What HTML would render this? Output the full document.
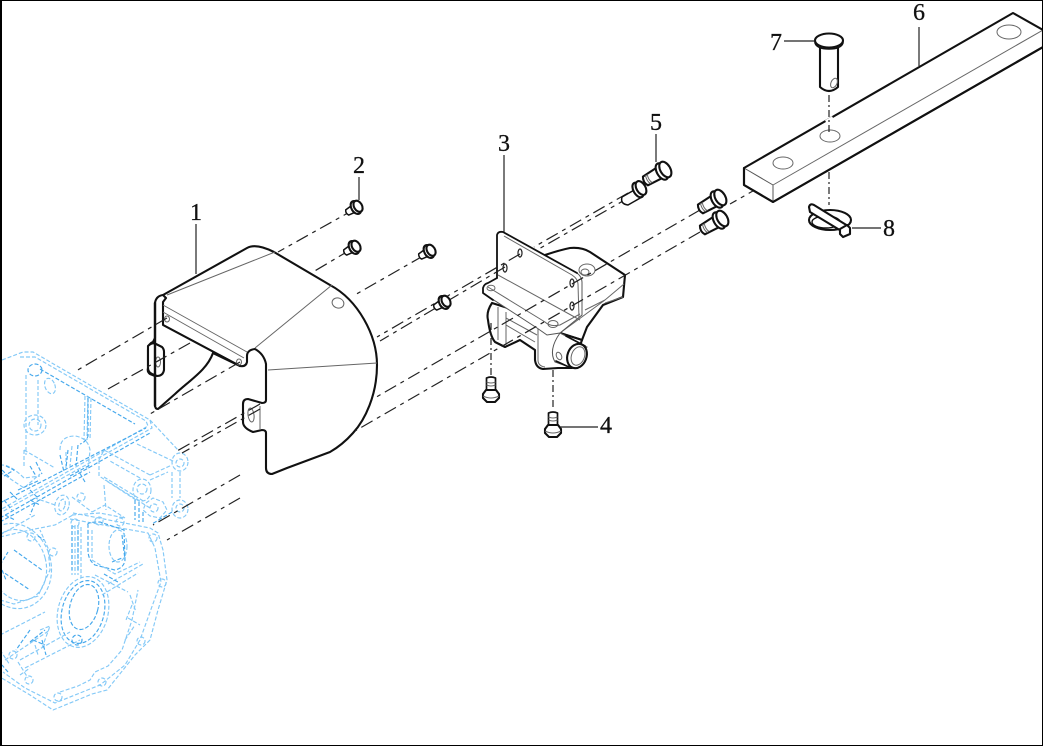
<!DOCTYPE html>
<html lang="en">
<head>
<meta charset="utf-8">
<title>Exploded parts diagram</title>
<style>
html,body{margin:0;padding:0;background:#fff;width:1043px;height:746px;overflow:hidden}
svg{display:block}
.o{fill:#fff;stroke:#111;stroke-width:2.1;stroke-linejoin:round;stroke-linecap:round}
.n{fill:none;stroke:#111;stroke-width:2.1;stroke-linejoin:round;stroke-linecap:round}
.t{fill:none;stroke:#666;stroke-width:1}
.l{fill:none;stroke:#222;stroke-width:1.2}
.d{fill:none;stroke:#222;stroke-width:1.2;stroke-dasharray:13 5 4 5}
.v{fill:none;stroke:#222;stroke-width:1.2;stroke-dasharray:7 3 2 3}
.e{fill:none;stroke:#84c9f7;stroke-width:1.15;stroke-dasharray:4 2}
.f{fill:none;stroke:#45a8ec;stroke-width:1.15;stroke-dasharray:4 2}
text{font-family:"Liberation Serif",serif;font-size:24px;fill:#111;stroke:#111;stroke-width:.3;text-anchor:middle}
</style>
</head>
<body>
<svg width="1043" height="746" viewBox="0 0 1043 746" xmlns="http://www.w3.org/2000/svg">
<defs>
<g id="sb">
  <path class="o" d="M-9,-3 L0,-4 L0,4 L-9,3 Q-11,0 -9,-3Z" style="stroke-width:1.5"/>
  <ellipse class="o" cx="1" cy="0" rx="4.5" ry="7"/>
  <ellipse class="o" cx="3.5" cy="0" rx="4" ry="6"/>
</g>
<g id="lb">
  <path class="o" d="M-18,-5 L0,-6 L0,6 L-18,5 Q-21,0 -18,-5Z"/>
  <path class="t" d="M-15,-5 Q-17,0 -15,5 M-13,-5 Q-15,0 -13,5"/>
  <ellipse class="o" cx="1" cy="0" rx="5" ry="9"/>
  <ellipse class="o" cx="5" cy="0" rx="5" ry="8.5"/>
</g>
<g id="vb">
  <path class="o" d="M-4.5,-15 Q0,-17 4.5,-15 L4.5,0 L-4.5,0Z" style="stroke-width:1.7"/>
  <path class="t" d="M-4.5,-11 Q0,-9 4.5,-11 M-4.5,-8 Q0,-6 4.5,-8"/>
  <path class="o" d="M-8,1 L-5,-3 L5,-3 L8,1 L8,5 L4,9 L-4,9 L-8,5Z"/>
  <path class="t" d="M-8,3 Q0,7 8,3"/>
</g>
</defs>
<rect width="1043" height="746" fill="#fff"/>

<!-- engine ghost -->
<g>
<path class="e" d="M2,360 L23,352 L33,352 L150,420 L152,428 L0,513"/>
<path class="e" d="M20,357 L35,357 L146,421 L148,426 L0,510"/>
<path class="f" d="M40,369 L135,424 M0,503 L146,428 M0,518 L150,433 M0,522 L90,472"/>
<path class="e" d="M26,375 L26,455 M38,380 L38,425 M85,396 L84,440 M88,396 L87,440 M91,398 L90,440"/>
<path class="f" d="M88,398 L88,436 Q86,442 80,444"/>
<ellipse class="e" cx="50" cy="386" rx="5" ry="8" transform="rotate(-20 50 386)"/>
<ellipse class="e" cx="35" cy="425" rx="11" ry="10"/>
<ellipse class="f" cx="35" cy="370" rx="7" ry="6"/>
<ellipse class="e" cx="35" cy="425" rx="6" ry="6"/>
<path class="e" d="M24,450 L24,468 M24,450 L55,468 M60,450 Q60,436 75,436 Q88,438 90,450 L88,470 M66,452 L66,468 M72,446 L70,466"/>
<path class="f" d="M68,450 L66,468 M78,445 L76,466 M30,466 L36,476 M36,462 L42,474 M60,455 L64,472"/>
<path class="e" d="M0,465 Q10,464 24,478 L40,476 M0,472 L24,488 L40,474"/>
<path class="f" d="M6,466 L14,470 L4,476 M10,492 L18,500 M70,476 L90,465 M85,482 L78,470 M2,470 L10,478 M4,500 L12,510 M30,490 L38,498"/>
<path class="e" d="M99,460 L99,476 L150,508 M150,475 L104,450 L99,460 M104,477 L145,502 M104,485 L106,510"/>
<path class="e" d="M137,444 L175,462 M150,420 L178,450"/>
<ellipse class="e" cx="180" cy="462" rx="8" ry="9"/><ellipse class="e" cx="180" cy="463" rx="4" ry="4"/>
<path class="e" d="M172,472 L172,498 M180,472 L180,498 M150,475 L172,465 M150,480 L168,472"/>
<ellipse class="e" cx="142" cy="490" rx="9" ry="11"/><ellipse class="e" cx="142" cy="489" rx="5" ry="5"/>
<path class="e" d="M140,478 L110,461 M136,500 L105,480"/>
<ellipse class="e" cx="180" cy="509" rx="8" ry="9"/><ellipse class="e" cx="180" cy="508" rx="4" ry="4"/>
<path class="e" d="M146,503 L153,498 L163,502 L167,510 L160,518 L150,516 L143,510Z"/><circle class="e" cx="154" cy="508" r="4"/>
<path class="f" d="M135,500 L135,520 M139,502 L139,522 M143,512 L143,522 M172,512 L152,524"/>
<!-- main housing -->
<path class="e" d="M73,513 L150,528 L158,533 L163,550 L167,580 L158,610 L150,640 L135,655 L107,690 L92,694 L53,710 L30,695 L0,677"/>
<path class="e" d="M70,519 L148,533 L155,548 L161,582 L150,612 L140,640 L125,665 L100,685 L55,703 L25,688 L3,672"/>
<path class="e" d="M0,537 L30,530 L55,525 L73,515 M0,600 L14,604 L38,596 L50,570 L48,548 L40,530"/>
<ellipse class="e" cx="18" cy="565" rx="28" ry="36" transform="rotate(-15 18 565)"/>
<ellipse class="e" cx="15" cy="566" rx="36" ry="43" transform="rotate(-15 15 566)"/>
<path class="f" d="M38,536 L44,540 M14,550 L42,570 M0,570 L30,590 M0,565 L8,552 M2,570 L6,580"/>
<ellipse class="f" cx="83" cy="612" rx="21" ry="32" transform="rotate(15 83 612)"/>
<ellipse class="e" cx="83" cy="612" rx="25" ry="36" transform="rotate(15 83 612)"/>
<ellipse class="f" cx="84" cy="607" rx="14" ry="23" transform="rotate(15 84 607)"/>
<path class="e" d="M72,525 L72,575 M75,525 L75,575 M78,525 L78,575 M81,527 L81,578"/>
<path class="f" d="M72,525 L72,570 M78,530 L78,572 M88,525 Q86,522 100,522 L124,530 L125,560 Q124,568 115,570 L95,565 Q88,560 88,550Z"/>
<path class="e" d="M92,530 L92,560 L115,574 L140,562 M95,575 L128,592 M108,584 L143,564 M102,595 L138,573"/>
<ellipse class="e" cx="118" cy="546" rx="9" ry="16"/>
<path class="f" d="M104,574 L118,582 M112,562 L122,558 M122,535 L125,560"/>
<path class="e" d="M40,630 L50,626 L42,648 M0,635 L45,612 M5,660 L50,630 M20,660 L70,632 M25,668 L80,640 M35,645 L38,655"/>
<path class="f" d="M30,642 L45,630 M42,640 L46,655 M33,640 L45,645"/>
<path class="e" d="M0,650 L10,665 M20,675 L30,668 M18,662 L28,678"/>
<path class="e" d="M60,692 L66,690 L78,686 L90,680 L95,672 L108,666 L122,650 L132,620 L138,590"/>
<path class="e" d="M130,595 L136,612 M132,605 L126,620 M125,640 L135,625 M128,618 L140,625"/>
<circle class="e" cx="29" cy="680" r="4"/><circle class="e" cx="58" cy="697" r="4"/><circle class="e" cx="102" cy="682" r="4"/>
<circle class="e" cx="141" cy="641" r="4"/><circle class="e" cx="162" cy="583" r="4"/><circle class="e" cx="153" cy="538" r="4"/>
<circle class="e" cx="120" cy="522" r="4"/><circle class="e" cx="99" cy="521" r="4"/><circle class="e" cx="75" cy="523" r="4"/>
<circle class="e" cx="31" cy="537" r="4"/><circle class="e" cx="13" cy="655" r="4"/><circle class="e" cx="53" cy="552" r="4"/>
<ellipse class="e" cx="62" cy="505" rx="7" ry="10" transform="rotate(15 62 505)"/><ellipse class="e" cx="62" cy="505" rx="3" ry="6" transform="rotate(15 62 505)"/>
<circle class="e" cx="81" cy="497" r="4"/>
<path class="e" d="M72,515 L100,513 L125,518 M55,505 L35,498 M72,497 L92,512 M0,535 L35,515 M92,512 L105,505 L125,518"/>
<path class="f" d="M35,503 L30,515 M30,500 L40,505 M5,515 L15,520 M18,490 L40,480"/>
<ellipse class="f" cx="77" cy="640" rx="5" ry="5"/>
<path class="f" d="M8,672 L2,665 M30,630 L16,650"/>
</g>

<!-- axis lines behind cover -->
<path class="d" d="M355,209 L278,252"/>
<path class="d" d="M350,250 L313,272"/>
<path class="d" d="M423,256 L353,296"/>
<path class="d" d="M240,475 L153,525"/>
<path class="d" d="M240,498 L167,540"/>

<!-- part 1 cover -->
<path class="o" d="M163,295 L247,248 Q256,243 274,252 L330,285 C358,300 377,335 377,365 C377,395 365,420 353,433 C345,442 337,448 330,452 L287,468 L272,474 Q266,474 266,468 L266,433 Q266,430 262,430 L253,432 Q243,428 243,422 L243,404 Q243,399 248,399 L262,403 Q266,403 266,400 L266,364 Q264,354 255,349 Q247,350 247,356 L247,362 Q246,367 240,366 L163,325 L162,298Z"/>
<path class="o" d="M155,303 Q156,296 163,295 L166,298 L163,302 L163,325 L240,366 L213,353 C207,370 190,380 175,394 L158,409 Q155,409 155,405 L155,376 L150,374 Q147,372 148,368 L148,350 Q148,344 153,342 L155,338Z"/>
<path class="o" d="M148,346 Q152,342 156,344 L162,347 Q164,349 164,352 L164,370 Q163,376 157,376 L152,374 Q148,372 148,368Z"/>
<ellipse class="t" cx="158" cy="362" rx="2.5" ry="5"/>
<path class="t" d="M167,295 L275,252 M163,305 L247,352 M163,312 L244,358 M255,348 L332,285 M268,370 L377,363"/>
<path class="n" d="M155,303 L155,406" style="stroke-width:2.4"/>
<ellipse class="t" cx="338" cy="303" rx="6" ry="5" transform="rotate(20 338 303)"/>
<ellipse class="t" cx="167" cy="319" rx="2.5" ry="3"/><ellipse class="t" cx="239" cy="362" rx="2.5" ry="3"/>
<ellipse class="t" cx="251" cy="415" rx="3" ry="7" transform="rotate(-8 251 415)"/>
<path class="t" d="M260,406 L260,430"/>
<path class="d" d="M167,318 L76,371"/>
<path class="d" d="M190,343 L108,389"/>
<path class="d" d="M240,362 L150,414"/>
<path class="d" d="M260,404 L177,451"/>
<path class="d" d="M260,409 L182,453"/>

<!-- part 3 rear body -->
<path class="o" d="M545,255 Q560,250 570,248 Q582,247 590,252 L625,275 L623,297 L603,305 L587,327 L582,340 L560,333 L520,300Z"/>
<ellipse class="t" cx="587" cy="270" rx="8" ry="6"/><ellipse class="t" cx="585" cy="272" rx="4" ry="3"/>
<path class="t" d="M624,284 L605,300 L585,310 M605,300 L560,333 M623,297 L605,303"/>
<!-- lower body -->
<path class="o" d="M492,303 Q486,312 488,320 Q490,336 495,342 L505,347 L520,340 L535,350 L535,360 Q536,368 543,369 L558,368 L572,368 L582,340 L560,333 L530,315Z"/>
<path class="t" d="M498,307 L498,340 M506,312 L506,345 M506,325 L535,342 M506,318 L537,335 M538,328 L538,360 Q538,366 545,367"/>
<!-- plate + foot -->
<path d="M497,235 Q498,231 503,232 L577,273 Q582,277 582,282 L582,315 L560,333 L547,335 L537,328 L483,293 L483,288 Q484,284 488,283 L497,278Z" fill="#fff" stroke="#555" stroke-width="1"/>
<path class="n" d="M497,278 L497,235 Q498,231 503,232 L577,273" style="stroke-width:1.8"/>
<path class="n" d="M497,278 L488,283 Q484,284 483,288 L483,293 L493,300" style="stroke-width:1.8"/>
<path class="t" d="M504,236 L572,275 Q578,279 578,284 L579,318 M498,275 L580,320 M488,287 L545,322 Q550,327 560,325 L580,314"/>
<ellipse class="t" cx="491" cy="288" rx="4" ry="2.8"/>
<ellipse class="t" cx="553" cy="324" rx="5" ry="3.5"/>
<ellipse class="l" cx="520" cy="253" rx="2" ry="4"/>
<ellipse class="l" cx="505" cy="268" rx="2" ry="4"/>
<ellipse class="l" cx="572" cy="283" rx="2" ry="4"/>
<ellipse class="l" cx="572" cy="306" rx="2" ry="4"/>
<!-- boss -->
<path d="M560,333 L587,347 L572,368 L555,362 Q548,350 560,333Z" fill="#fff" stroke="#555" stroke-width="1"/>
<path class="n" d="M566,336 L585,346 M556,361 L571,368" style="stroke-width:1.7"/>
<ellipse class="o" cx="577" cy="356" rx="9.5" ry="12.5" transform="rotate(20 577 356)"/>
<ellipse class="t" cx="578" cy="356" rx="6.5" ry="9.5" transform="rotate(20 578 356)"/>
<ellipse class="t" cx="559" cy="356" rx="2.5" ry="4" transform="rotate(-25 559 356)"/>

<!-- axes over bracket -->
<path class="d" d="M700,210 L373,399"/>
<path class="d" d="M700,232 L355,431"/>
<path class="d" d="M760,187 L730,204"/>
<path class="d" d="M628,193 L534,247 M520,254 L377,337"/>
<path class="d" d="M630,197 L537,250 M505,267 L380,341"/>

<!-- vertical axes -->
<path class="v" d="M491,323 L491,376"/>
<path class="v" d="M553,370 L553,410"/>

<!-- bolts -->
<use href="#sb" transform="translate(355,208) rotate(-30)"/>
<use href="#sb" transform="translate(353,248) rotate(-30)"/>
<use href="#sb" transform="translate(428,252) rotate(-30)"/>
<use href="#sb" transform="translate(443,303) rotate(-30)"/>
<use href="#vb" transform="translate(491,393)"/>
<use href="#vb" transform="translate(553,428)"/>
<use href="#lb" transform="translate(716,200) rotate(-30)"/>
<use href="#lb" transform="translate(718,221) rotate(-30)"/>
<use href="#lb" transform="translate(661,172) rotate(-30)"/>
<path class="o" d="M622,197 L636,189 L642,197 L628,205 Q620,204 622,197Z" style="stroke-width:1.5"/>
<ellipse class="o" cx="638" cy="190" rx="4.5" ry="8" transform="rotate(-30 638 190)"/>
<ellipse class="o" cx="641" cy="188" rx="4.5" ry="7.5" transform="rotate(-30 641 188)"/>

<!-- part 6 bar -->
<path class="o" d="M744,168 L1013,13 L1043,30 L1043,47 L773,202 L744,185Z"/>
<path class="n" d="M744,168 L773,185 L773,202" style="stroke:#555;stroke-width:1"/>
<path class="t" d="M773,185 L1043,30"/>
<path class="n" d="M744,168 L744,185 L773,202 L1043,47"/>
<ellipse class="t" cx="783" cy="163" rx="10" ry="6"/>
<ellipse class="t" cx="830" cy="136" rx="10" ry="6"/>
<ellipse class="t" cx="1009" cy="32" rx="12" ry="7"/>
<line x1="826" y1="122" x2="833" y2="118" stroke="#fff" stroke-width="4"/>
<path class="v" d="M829,95 L829,133"/>
<path class="v" d="M829,172 L829,205"/>

<!-- part 7 pin -->
<path class="o" d="M820,46 L820,87 Q829,95 838,87 L838,46Z"/>
<ellipse class="t" cx="834" cy="83" rx="3" ry="5" transform="rotate(25 834 83)"/>
<path class="o" d="M815,41 L815,43 Q817,49 829,49 Q841,49 843,43 L843,41Z" style="fill:#bbb;stroke-width:1.5"/>
<ellipse class="o" cx="829" cy="40.5" rx="14" ry="7"/>

<!-- part 8 lynch pin -->
<ellipse class="n" cx="830" cy="220" rx="21" ry="10"/>
<ellipse class="n" cx="826" cy="222" rx="14" ry="6" style="stroke-width:1.4"/>
<path class="o" d="M809,207 Q810,203 814,205 L848,226 L845,232 L843,232 L810,212Z"/>
<path class="o" d="M840,229 L847,225 L850,228 L850,234 L843,237 L840,234Z"/>

<!-- leaders -->
<path class="l" d="M196,224 L196,274 M359,177 L359,200 M504,155 L504,232 M656,134 L656,162 M919,27 L919,66 M784,41 L815,41 M852,228 L881,228 M560,427 L598,427"/>

<!-- labels -->
<text x="196" y="220">1</text>
<text x="359" y="173">2</text>
<text x="504" y="151">3</text>
<text x="606" y="433">4</text>
<text x="656" y="130">5</text>
<text x="919" y="20">6</text>
<text x="776" y="50">7</text>
<text x="889" y="236">8</text>

<!-- frame -->
<rect x=".5" y=".5" width="1042" height="745" fill="none" stroke="#000" stroke-width="1"/>
<line x1="1" y1="0" x2="1" y2="746" stroke="#000" stroke-width="2"/>
</svg>
</body>
</html>
